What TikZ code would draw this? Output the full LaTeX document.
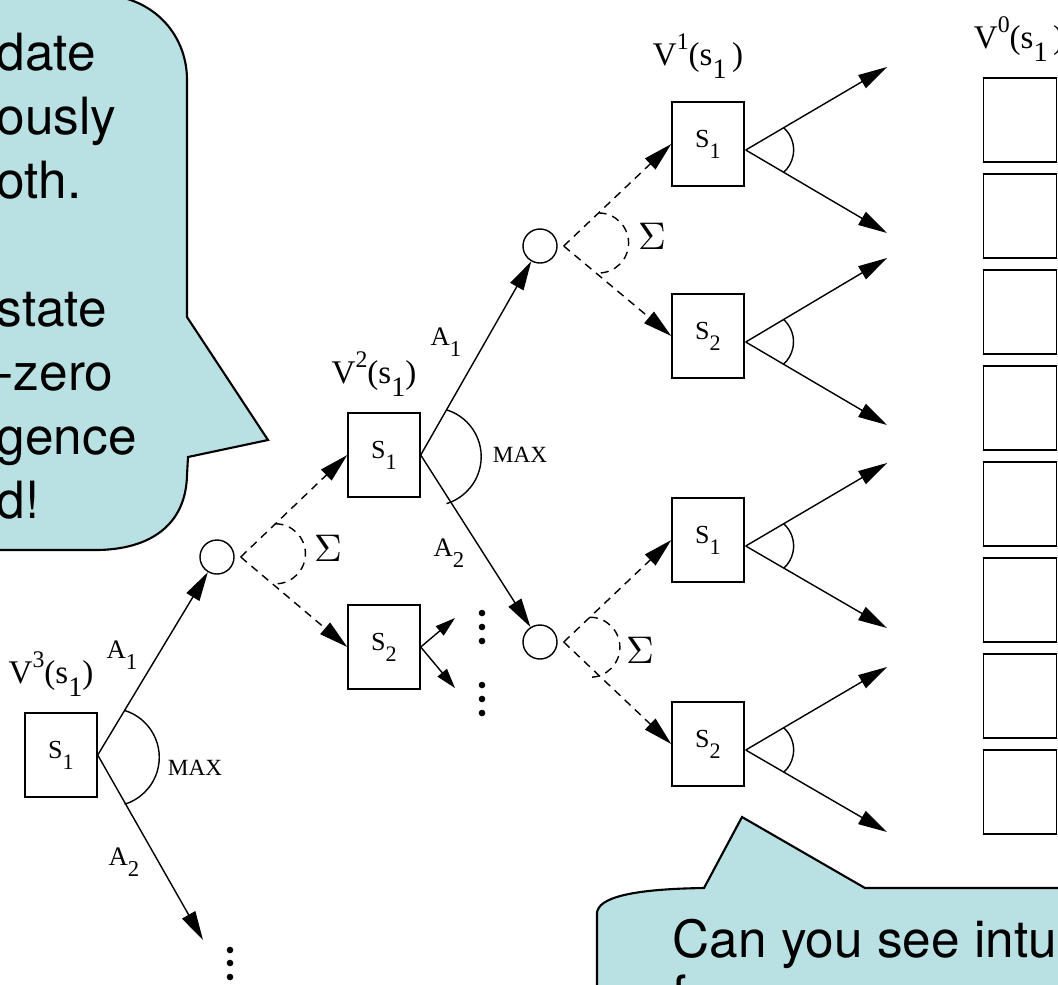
\documentclass[tikz,border=0pt]{standalone}
\usepackage{fontspec}
\usepackage{graphicx}
\setmainfont{Liberation Serif}
\newfontfamily\notefont{TeX Gyre Heros}
\usetikzlibrary{arrows.meta, calc}
\definecolor{NoteCyan}{HTML}{B9E0E3}
\newcommand{\lowix}[1]{\raisebox{-0.9ex}{\scalebox{0.85}{#1}}}
\newcommand{\highix}[1]{\raisebox{1.0ex}{\scalebox{0.72}{#1}}}
\tikzset{
    state/.style={
        draw,
        minimum width=0.72cm,
        minimum height=0.84cm,
        inner sep=0pt,
        font=\fontsize{7.4pt}{9pt}\selectfont
    },
    chance/.style={
        draw,
        circle,
        minimum size=0.34cm,
        inner sep=0pt
    },
    act/.style={
        -{Triangle[length=0.29cm, width=0.15cm]}
    },
    smallact/.style={
        -{Triangle[length=0.2cm, width=0.12cm]}
    },
    trans/.style={
        act,
        dash pattern=on 0.08cm off 0.06cm
    },
    vlabel/.style={
        font=\fontsize{9.4pt}{11pt}\selectfont,
        anchor=base,
        inner sep=0pt
    },
    alabel/.style={
        font=\fontsize{7.6pt}{9pt}\selectfont,
        inner sep=0pt
    },
    maxlabel/.style={
        font=\fontsize{6.6pt}{8pt}\selectfont,
        inner sep=0pt
    },
    sumlabel/.style={
        font=\fontsize{10.5pt}{12pt}\selectfont,
        inner sep=0pt
    },
    callout/.style={
        draw,
        fill=NoteCyan,
        line width=0.6pt
    },
    notetext/.style={
        font=\notefont\fontsize{14.6pt}{18pt}\selectfont,
        anchor=base west,
        inner sep=0pt
    }
}

\begin{document}
\begin{tikzpicture}[x=0.01cm, y=-0.01cm]
        \clip (0,0) rectangle (1058,984);

        % Left callout
        \draw[callout] (-20,-5) -- (100,-5) .. controls (150,-5) and (187,32) .. (187,80)
            -- (187,317) -- (268,440) -- (188,457) -- (187,475)
            .. controls (186,525) and (150,550) .. (95,550) -- (-20,550) -- cycle;
        \foreach \t/\y [count=\i] in {date/70, ously/134, oth./198, state/326, -zero/390, gence/454, d!/518}
            \node[notetext] (note\i) at (-4,\y) {\t};

        % Bottom callout
        \draw[callout] (597,1000) -- (597,913) .. controls (598,898) and (630,889) .. (704,888)
            -- (742,817) -- (865,888) -- (1070,888) -- (1070,1000) -- cycle;
        \node[notetext] (ask1) at (672,957) {Can you see intu};
        \node[notetext] (ask2) at (672,1012) {f};

        % Stage 3
        \node[state] (l3s1) at (61,755) {S\lowix{1}};
        \node[vlabel] (v3) at (51,683) {V\highix{3}(s\lowix{1})};
        \node[chance] (c1) at (217,557) {};
        \coordinate (l3end) at (203,940);
        \draw[act] (l3s1.east) -- (c1);
        \draw[act] (l3s1.east) -- (l3end);
        \draw ($(l3s1.east)!0.52cm!(c1)$) arc[start angle=73, end angle=-73, radius=0.49cm];
        \node[alabel] (a31) at (122,655) {A\lowix{1}};
        \node[alabel] (a32) at (124,862) {A\lowix{2}};
        \node[maxlabel] (max3) at (195,768) {MAX};
        \foreach \y in {950,963,977}
            \fill (230,\y) circle (0.033cm);

        % Stage 2
        \node[state] (l2s1) at (384,455) {S\lowix{1}};
        \node[state] (l2s2) at (384,647) {S\lowix{2}};
        \node[vlabel] (v2) at (374,383) {V\highix{2}(s\lowix{1})};
        \coordinate (c1o) at ($(c1.east)+(6,0)$);
        \draw[trans] (c1o) -- (l2s1.west);
        \draw[trans] (c1o) -- (l2s2.west);
        \draw[dash pattern=on 0.08cm off 0.06cm] ($(c1o)!0.48cm!(l2s1.west)$) arc[start angle=90, end angle=-90, radius=0.30cm];
        \node[sumlabel] (sum1) at (328,548) {$\Sigma$};
        \node[chance] (c2) at (540,246) {};
        \node[chance] (c3) at (540,642) {};
        \draw[act] (l2s1.east) -- (c2);
        \draw[act] (l2s1.east) -- (c3);
        \draw ($(l2s1.east)!0.52cm!(c2)$) arc[start angle=73, end angle=-73, radius=0.49cm];
        \node[alabel] (a21) at (446,342) {A\lowix{1}};
        \node[alabel] (a22) at (449,553) {A\lowix{2}};
        \node[maxlabel] (max2) at (520,455) {MAX};
        \coordinate (l2up) at (455,618);
        \coordinate (l2dn) at (455,688);
        \draw[smallact] (l2s2.east) -- (l2up);
        \draw[smallact] (l2s2.east) -- (l2dn);
        \foreach \y in {613,627,641,685,699,713}
            \fill (482,\y) circle (0.033cm);

        % Stage 1
        \node[state] (l1a) at (708,144) {S\lowix{1}};
        \node[state] (l1b) at (708,336) {S\lowix{2}};
        \node[state] (l1c) at (708,540) {S\lowix{1}};
        \node[state] (l1d) at (708,744) {S\lowix{2}};
        \node[vlabel] (v1) at (698,65) {V\highix{1}(s\lowix{1}\,)};
        \coordinate (c2o) at ($(c2.east)+(6,0)$);
        \coordinate (c3o) at ($(c3.east)+(6,0)$);
        \draw[trans] (c2o) -- (l1a.west);
        \draw[trans] (c2o) -- (l1b.west);
        \draw[trans] (c3o) -- (l1c.west);
        \draw[trans] (c3o) -- (l1d.west);
        \draw[dash pattern=on 0.08cm off 0.06cm] ($(c2o)!0.48cm!(l1a.west)$) arc[start angle=90, end angle=-90, radius=0.30cm];
        \draw[dash pattern=on 0.08cm off 0.06cm] ($(c3o)!0.36cm!(l1c.west)$) arc[start angle=90, end angle=-90, radius=0.30cm];
        \node[sumlabel] (sum2) at (652,236) {$\Sigma$};
        \node[sumlabel] (sum3) at (640,650) {$\Sigma$};
        \foreach \n/\ya/\yb in {l1a/67/233, l1b/258/425, l1c/463/628, l1d/667/832} {
            \coordinate (\n o) at ($(\n.east)+(1,6)$);
            \coordinate (\n up) at (887,\ya);
            \coordinate (\n dn) at (887,\yb);
            \draw[act] (\n o) -- (\n up);
            \draw[act] (\n o) -- (\n dn);
            \draw ($(\n o)!0.44cm!(\n up)$) arc[start angle=48, end angle=-48, radius=0.30cm];
        }

        % Stage 0
        \node[vlabel] (v0) at (1019,48) {V\highix{0}(s\lowix{1}\,)};
        \foreach \i in {0,...,7}
            \node[state, minimum width=0.73cm] (v0box\i) at (1020,120+96*\i) {};
    \end{tikzpicture}
\end{document}
